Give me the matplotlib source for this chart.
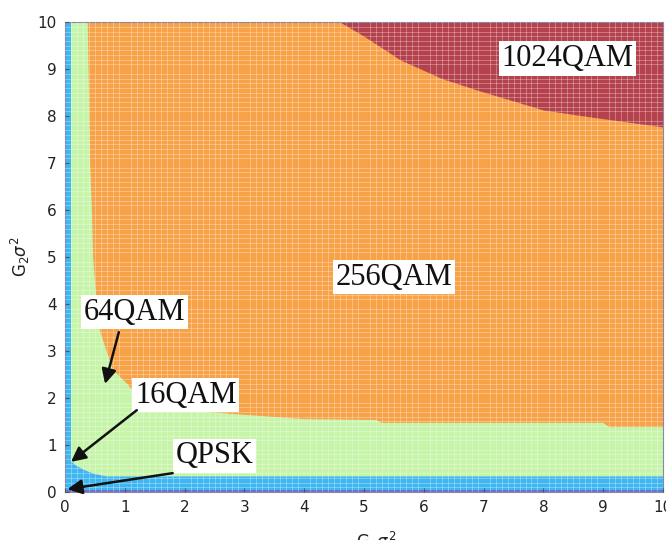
import numpy as np
import matplotlib

matplotlib.use("Agg")

import matplotlib.pyplot as plt

# Границы областей модуляции
x_256 = [0.38, 0.42, 0.45, 0.47, 0.53, 0.59, 0.8, 1.04, 1.26, 1.7, 2.2, 2.8, 4.0, 5.2, 5.3, 9.0, 9.1, 10]
y_256 = [10, 7, 6, 5, 4, 3.4, 2.6, 2.3, 1.96, 1.8, 1.72, 1.66, 1.55, 1.53, 1.47, 1.47, 1.38, 1.38]

x_16 = [0.1, 0.1, 0.2, 0.35, 0.5, 0.7, 10]
y_16 = [10, 0.65, 0.55, 0.45, 0.38, 0.33, 0.33]

x_1024 = [4.6, 5.0, 5.6, 6.3, 6.9, 8.0, 8.8, 10]
y_1024 = [10, 9.7, 9.2, 8.8, 8.55, 8.13, 7.98, 7.77]

y_qpsk = 0.05

# Подписи и стрелки
labels = ["1024QAM", "256QAM", "64QAM", "16QAM", "QPSK"]
label_xy = [(8.4, 9.23), (5.5, 4.57), (1.16, 3.83), (2.02, 2.06), (2.5, 0.77)]
arrow_tail = [None, None, (0.9, 3.4), (1.2, 1.74), (1.8, 0.4)]
arrow_tip = [None, None, (0.67, 2.3), (0.1, 0.64), (0.04, 0.06)]

colors = {
    "QPSK": "#6f6fc9",
    "16QAM": "#3db6f2",
    "64QAM": "#c6f5aa",
    "256QAM": "#f8a247",
    "1024QAM": "#b5414c",
}

fig = plt.figure(figsize=(6.66, 5.4), dpi=100)
ax = fig.add_axes([0.0976, 0.089, 0.898, 0.870])

# 256QAM — фон всей области
ax.fill_between([0, 10], 0, 10, color=colors["256QAM"], lw=0)

# 64QAM — ниже/левее границы 256QAM
poly_x = [0, 0] + x_256 + [10]
poly_y = [0, 10] + y_256 + [0]
ax.fill(poly_x, poly_y, color=colors["64QAM"], lw=0)

# 16QAM
poly_x = [0, 0] + x_16 + [10]
poly_y = [0, 10] + y_16 + [0]
ax.fill(poly_x, poly_y, color=colors["16QAM"], lw=0)

# QPSK — тонкая полоса внизу
ax.fill_between([0, 10], 0, y_qpsk, color=colors["QPSK"], lw=0)

# 1024QAM — верхний правый угол
ax.fill_between(x_1024, y_1024, 10, color=colors["1024QAM"], lw=0)

ax.set_xlim(0, 10)
ax.set_ylim(0, 10)
ax.set_xticks(np.arange(0, 11, 1))
ax.set_yticks(np.arange(0, 11, 1))

# Белая сетка как у pcolor
ax.set_xticks(np.arange(0, 10, 0.1), minor=True)
ax.set_yticks(np.arange(0, 10, 0.1), minor=True)
ax.set_axisbelow(False)
ax.grid(which="minor", color="white", alpha=0.35, lw=0.6)
ax.tick_params(which="minor", length=0)
ax.tick_params(which="major", direction="in", length=3, labelsize=11,
               labelcolor="#222222", color="#555555", pad=6)

for s in ax.spines.values():
    s.set_color("#8888aa")
    s.set_linewidth(0.8)

for i, name in enumerate(labels):
    ax.text(label_xy[i][0], label_xy[i][1], name, ha="center", va="center",
            fontsize=22, family="Liberation Serif", color="#111111", zorder=5,
            bbox=dict(facecolor="white", edgecolor="none", pad=2))
    if arrow_tail[i] is not None:
        ax.annotate("", xy=arrow_tip[i], xytext=arrow_tail[i], zorder=6,
                    arrowprops=dict(arrowstyle="-|>", lw=1.8, color="#111111",
                                    mutation_scale=22, shrinkA=0, shrinkB=0))

ax.set_xlabel(r"G$_1\sigma^2$", fontsize=12, color="#222222")
ax.set_ylabel(r"G$_2\sigma^2$", fontsize=12, color="#222222")
ax.xaxis.set_label_coords(0.52, -0.08)
ax.yaxis.set_label_coords(-0.055, 0.5)

fig.savefig("out.png", dpi=100)
